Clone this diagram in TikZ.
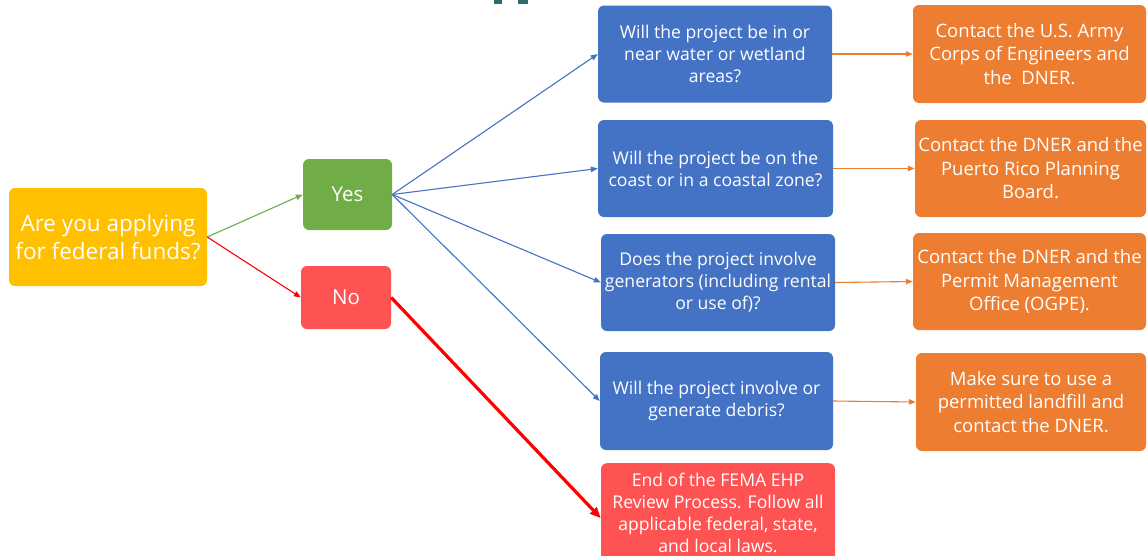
\documentclass[tikz,border=0pt]{standalone}
\usepackage{fontspec}
\setmainfont{Open Sans}
\usetikzlibrary{arrows.meta}
\definecolor{cyellow}{HTML}{FFC000}
\definecolor{cgreen}{HTML}{70AD47}
\definecolor{cred}{HTML}{FF5353}
\definecolor{cblue}{HTML}{4472C4}
\definecolor{corange}{HTML}{ED7D31}
\definecolor{cteal}{HTML}{2E6B6B}
\definecolor{lred}{HTML}{FF0000}
\tikzset{
  box/.style={rounded corners=6pt, text=white, align=center, inner sep=0pt, draw=none},
  qbox/.style={box, fill=cblue, font=\fontsize{17.6}{22}\selectfont},
  abox/.style={box, fill=corange, font=\fontsize{18.5}{23.5}\selectfont},
  arr/.style={-{Triangle[length=7pt,width=5.5pt]}, line width=1.1pt},
}
\begin{document}
\begin{tikzpicture}[x=1pt,y=-1pt]
\useasboundingbox (0,0) rectangle (1147,555);
\clip (0,0) rectangle (1147,555);
% title fragment
\fill[cteal] (494,0) rectangle (502,4);
\fill[cteal] (518,0) rectangle (528,4);
% nodes
\node[box, fill=cyellow, minimum width=198pt, minimum height=98pt, font=\fontsize{22.5}{28}\selectfont] (Q) at (108,237) {Are you applying\\for federal funds?};
\node[box, fill=cgreen, minimum width=89pt, minimum height=71pt, font=\fontsize{20.5}{26}\selectfont] (Yes) at (347.5,194.5) {Yes};
\node[box, fill=cred, minimum width=90pt, minimum height=63pt, font=\fontsize{20.5}{26}\selectfont] (No) at (346,297.5) {No};
\node[qbox, minimum width=234pt, minimum height=97pt] (B1) at (715,54) {Will the project be in or\\near water or wetland\\areas?};
\node[qbox, minimum width=235pt, minimum height=97pt] (B2) at (715.5,168.5) {Will the project be on the\\coast or in a coastal zone?};
\node[qbox, minimum width=234pt, minimum height=97pt] (B3) at (718,282.5) {Does the project involve\\generators (including rental\\or use of)?};
\node[qbox, minimum width=233pt, minimum height=98pt] (B4) at (716.5,401) {Will the project involve or\\generate debris?};
\node[box, fill=cred, minimum width=234pt, minimum height=100pt, font=\fontsize{17.6}{22}\selectfont, anchor=north] (End) at (718,463) {End of the FEMA EHP\\Review Process. Follow all\\applicable federal, state,\\and local laws.};
\node[abox, minimum width=233pt, minimum height=98pt] (O1) at (1029.5,54) {Contact the U.S. Army\\Corps of Engineers and\\the\ \ DNER.};
\node[abox, minimum width=231pt, minimum height=97pt] (O2) at (1030.5,168.5) {Contact the DNER and the\\Puerto Rico Planning\\Board.};
\node[abox, minimum width=233pt, minimum height=97pt] (O3) at (1029.5,281.5) {Contact the DNER and the\\Permit Management\\Office (OGPE).};
\node[abox, minimum width=230pt, minimum height=98pt] (O4) at (1031,402) {Make sure to use a\\permitted landfill and\\contact the DNER.};
% connectors
\draw[arr, cgreen] (Q.east) -- (Yes.west);
\draw[arr, lred] (Q.east) -- (No.west);
\draw[arr, cblue] (Yes.east) -- (B1.west);
\draw[arr, cblue] (Yes.east) -- (B2.west);
\draw[arr, cblue] (Yes.east) -- (B3.west);
\draw[arr, cblue] (Yes.east) -- (B4.west);
\draw[-{Triangle[length=11pt,width=9pt]}, lred, line width=3.2pt] (No.east) -- ([yshift=-5pt]End.west);
\draw[arr, corange] (B1.east) -- (O1.west);
\draw[arr, corange] (B2.east) -- (O2.west);
\draw[arr, corange] (B3.east) -- (O3.west);
\draw[arr, corange] (B4.east) -- (O4.west);
\end{tikzpicture}
\end{document}
